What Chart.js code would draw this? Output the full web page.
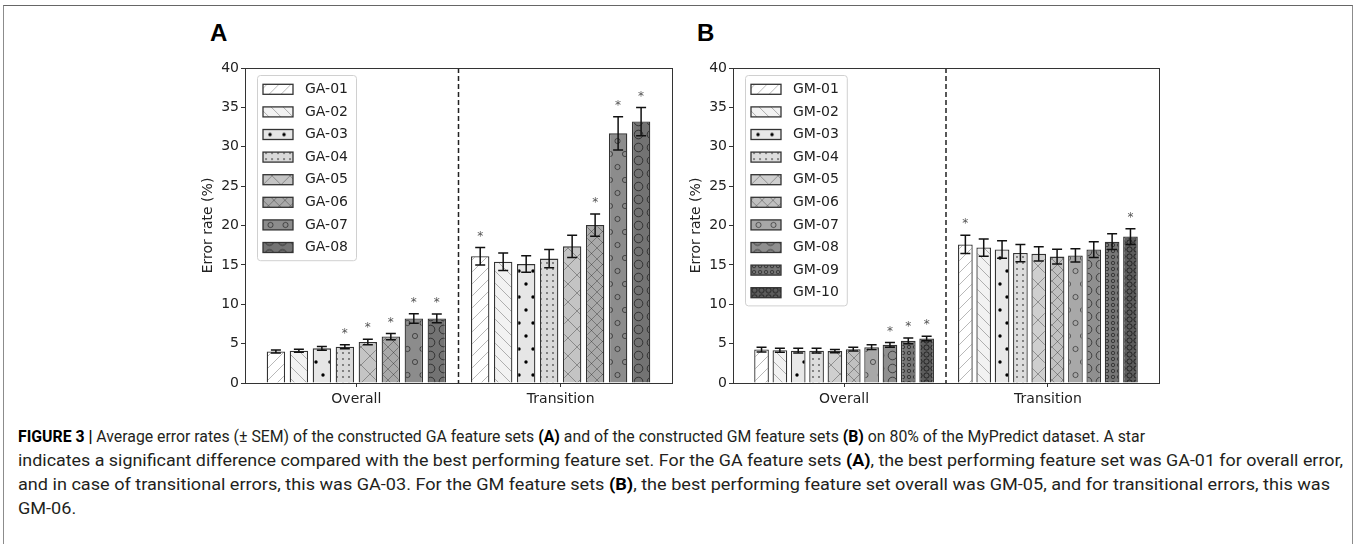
<!DOCTYPE html>
<html>
<head>
<meta charset="utf-8">
<script src="https://cdn.jsdelivr.net/npm/chart.js@4.4.0/dist/chart.umd.min.js"></script>
<style>
  body { margin: 0; background: #fff; width: 1356px; height: 544px; overflow: hidden; position: relative; }
  .frame { position: absolute; left: 3px; top: 5px; width: 1348px; height: 600px; border: 1px solid #8c8c8c; border-top-color: #666; }
  .panel { position: absolute; top: 21px; font: bold 24px "Liberation Sans", Arial, sans-serif; line-height: 24px; color: #000; }
  .wrap { position: absolute; top: 50px; width: 500px; height: 370px; }
  .caption { position: absolute; left: 18px; top: 425px; font: 16px Roboto, "Liberation Sans", sans-serif; line-height: 24px; color: #231f20; }
  .caption div { white-space: nowrap; transform-origin: 0 50%; width: max-content; }
  .caption b { color: #000; }
</style>
</head>
<body>
<div class="frame"></div>
<div class="panel" style="left:210px">A</div>
<div class="panel" style="left:697px">B</div>
<div class="wrap" style="left:190px"><canvas id="chartA" width="500" height="370"></canvas></div>
<div class="wrap" style="left:678px"><canvas id="chartB" width="500" height="370"></canvas></div>
<div class="caption">
  <div data-w="1127"><b>FIGURE 3 |</b> Average error rates (± SEM) of the constructed GA feature sets <b>(A)</b> and of the constructed GM feature sets <b>(B)</b> on 80% of the MyPredict dataset. A star</div>
  <div data-w="1325">indicates a significant difference compared with the best performing feature set. For the GA feature sets <b>(A)</b>, the best performing feature set was GA-01 for overall error,</div>
  <div data-w="1312">and in case of transitional errors, this was GA-03. For the GM feature sets <b>(B)</b>, the best performing feature set overall was GM-05, and for transitional errors, this was</div>
  <div>GM-06.</div>
</div>

<script>
// categories on the x axis
const categories = ['Overall', 'Transition'];

// panel A : GA feature sets
const gaLabels = ['GA-01', 'GA-02', 'GA-03', 'GA-04', 'GA-05', 'GA-06', 'GA-07', 'GA-08'];
const gaOverall = [4.0, 4.1, 4.4, 4.6, 5.2, 5.9, 8.2, 8.2];
const gaOverallSem = [0.2, 0.2, 0.25, 0.25, 0.35, 0.4, 0.6, 0.55];
const gaTransition = [16.1, 15.4, 15.1, 15.8, 17.35, 20.05, 31.7, 33.2];
const gaTransitionSem = [1.1, 1.1, 1.05, 1.15, 1.4, 1.4, 2.1, 1.8];
const gaOverallStar = [false, false, false, true, true, true, true, true];
const gaTransitionStar = [true, false, false, false, false, true, true, true];

// panel B : GM feature sets
const gmLabels = ['GM-01', 'GM-02', 'GM-03', 'GM-04', 'GM-05', 'GM-06', 'GM-07', 'GM-08', 'GM-09', 'GM-10'];
const gmOverall = [4.25, 4.15, 4.1, 4.1, 4.05, 4.3, 4.55, 4.85, 5.35, 5.65];
const gmOverallSem = [0.3, 0.25, 0.3, 0.3, 0.2, 0.25, 0.3, 0.3, 0.35, 0.3];
const gmTransition = [17.6, 17.2, 16.95, 16.5, 16.4, 16.05, 16.2, 16.95, 17.95, 18.6];
const gmTransitionSem = [1.15, 1.1, 1.1, 1.1, 0.9, 0.95, 0.85, 1.0, 1.0, 1.0];
const gmOverallStar = [false, false, false, false, false, false, false, true, true, true];
const gmTransitionStar = [true, false, false, false, false, false, false, false, false, true];

// y axis
const yMin = 0;
const yMax = 40;
const yStep = 5;

// styles
const gaFills = ['#ffffff', '#f2f2f2', '#e6e6e6', '#d9d9d9', '#c4c4c4', '#a9a9a9', '#8c8c8c', '#737373'];
const gaHatches = ['/', '\\', '.', '..', 'x', 'xx', 'o', 'O'];
const gmFills = ['#ffffff', '#f2f2f2', '#e8e8e8', '#dddddd', '#cfcfcf', '#c0c0c0', '#a8a8a8', '#8f8f8f', '#767676', '#5c5c5c'];
const gmHatches = ['/', '\\', '.', '..', 'x', 'xx', 'o', 'O', 'oo', 'OO'];

const FONT = 'DejaVu Sans';
const TEXT = '#222';

function makePattern(fill, hatch) {
    const c = document.createElement('canvas');
    let w = 12, h = 12;
    if (hatch === '.' ) { w = 14; h = 26; }
    if (hatch === '..') { w = 6; h = 6; }
    if (hatch === 'x') { w = 18; h = 18; }
    if (hatch === 'xx') { w = 11; h = 11; }
    if (hatch === 'o') { w = 15; h = 26; }
    if (hatch === 'O') { w = 13; h = 13; }
    if (hatch === 'oo') { w = 6; h = 6; }
    if (hatch === 'OO') { w = 7; h = 7; }
    c.width = w; c.height = h;
    const g = c.getContext('2d');
    g.fillStyle = fill;
    g.fillRect(0, 0, w, h);
    g.lineWidth = 1;

    function diag(forward) {
        g.beginPath();
        if (forward) {
            g.moveTo(-1, h + 1); g.lineTo(w + 1, -1);
            g.moveTo(-2, 2); g.lineTo(2, -2);
            g.moveTo(w - 2, h + 2); g.lineTo(w + 2, h - 2);
        } else {
            g.moveTo(-1, -1); g.lineTo(w + 1, h + 1);
            g.moveTo(w - 2, -2); g.lineTo(w + 2, 2);
            g.moveTo(-2, h - 2); g.lineTo(2, h + 2);
        }
        g.stroke();
    }
    function dot(x, y, r) {
        g.beginPath(); g.arc(x, y, r, 0, Math.PI * 2); g.fill();
    }
    function ring(x, y, r) {
        g.beginPath(); g.arc(x, y, r, 0, Math.PI * 2); g.stroke();
    }

    if (hatch === '/' || hatch === '\\') {
        g.strokeStyle = 'rgba(0,0,0,0.28)';
        diag(hatch === '/');
    } else if (hatch === 'x' || hatch === 'xx') {
        g.strokeStyle = 'rgba(0,0,0,0.3)';
        diag(true); diag(false);
    } else if (hatch === '.') {
        g.fillStyle = '#000';
        [[0, 0], [w, 0], [0, h], [w, h], [w / 2, h / 2]].forEach(p => dot(p[0], p[1], 1.7));
    } else if (hatch === '..') {
        g.fillStyle = 'rgba(0,0,0,0.6)';
        dot(3, 3, 0.9);
    } else if (hatch === 'o') {
        g.strokeStyle = 'rgba(0,0,0,0.5)';
        [[0, 0], [w, 0], [0, h], [w, h], [w / 2, h / 2]].forEach(p => ring(p[0], p[1], 2.6));
    } else if (hatch === 'O') {
        g.strokeStyle = 'rgba(0,0,0,0.55)';
        ring(w / 2, h / 2, 4.3);
    } else if (hatch === 'oo') {
        g.strokeStyle = 'rgba(0,0,0,0.5)';
        ring(3, 3, 1.7);
    } else if (hatch === 'OO') {
        g.strokeStyle = 'rgba(0,0,0,0.6)';
        ring(3.5, 3.5, 2.6);
    }
    return g.createPattern(c, 'repeat');
}

// error bars and significance stars
const errorBars = {
    id: 'errorBars',
    afterDatasetsDraw(chart) {
        const ctx = chart.ctx;
        const y = chart.scales.y;
        ctx.save();
        chart.data.datasets.forEach((ds, i) => {
            const meta = chart.getDatasetMeta(i);
            meta.data.forEach((bar, j) => {
                const v = ds.data[j].y;
                const top = y.getPixelForValue(v + ds.sem[j]);
                const bot = y.getPixelForValue(v - ds.sem[j]);
                ctx.strokeStyle = '#111';
                ctx.lineWidth = 1.5;
                ctx.beginPath();
                ctx.moveTo(bar.x, top); ctx.lineTo(bar.x, bot);
                ctx.moveTo(bar.x - 5, top); ctx.lineTo(bar.x + 5, top);
                ctx.moveTo(bar.x - 5, bot); ctx.lineTo(bar.x + 5, bot);
                ctx.stroke();
                if (ds.star[j]) {
                    ctx.fillStyle = '#555';
                    ctx.font = '12px ' + FONT;
                    ctx.textAlign = 'center';
                    ctx.textBaseline = 'middle';
                    ctx.fillText('*', bar.x, top - 11);
                }
            });
        });
        ctx.restore();
    }
};

// box around the axes and dashed separator between the groups
const axesBox = {
    id: 'axesBox',
    afterDatasetsDraw(chart) {
        const a = chart.chartArea;
        const ctx = chart.ctx;
        const xs = chart.scales.x;
        ctx.save();
        ctx.strokeStyle = '#222';
        ctx.lineWidth = 1.5;
        ctx.setLineDash([5, 3]);
        const mid = xs.getPixelForValue(0.5);
        ctx.beginPath();
        ctx.moveTo(mid, a.top); ctx.lineTo(mid, a.bottom);
        ctx.stroke();
        ctx.setLineDash([]);
        ctx.lineWidth = 1;
        ctx.strokeStyle = '#333';
        ctx.strokeRect(a.left + 0.5, a.top + 0.5, a.right - a.left, a.bottom - a.top);
        ctx.restore();
    }
};

// legend drawn inside the plot, top left
const insideLegend = {
    id: 'insideLegend',
    afterDraw(chart) {
        const a = chart.chartArea;
        const ctx = chart.ctx;
        const ds = chart.data.datasets;
        ctx.save();
        ctx.font = '14px ' + FONT;
        const tw = Math.max(...ds.map(d => ctx.measureText(d.label).width));
        const rowH = 22.6;
        const bx = a.left + 12, by = a.top + 7;
        const bw = 6 + 30 + 12 + tw + 8;
        const bh = 27 + (ds.length - 1) * rowH;
        ctx.fillStyle = 'rgba(255,255,255,0.85)';
        ctx.strokeStyle = '#d0d0d0';
        ctx.lineWidth = 1;
        ctx.beginPath();
        ctx.roundRect(bx + 0.5, by + 0.5, bw, bh, 3);
        ctx.fill();
        ctx.stroke();
        ds.forEach((d, i) => {
            const cy = by + 14.3 + i * rowH;
            const px = bx + 6;
            // move the pattern origin so the hatch sits in the middle of the swatch
            ctx.save();
            ctx.translate(px, cy - 13);
            ctx.fillStyle = d.backgroundColor;
            ctx.fillRect(0, 8, 30, 10);
            ctx.restore();
            ctx.strokeStyle = d.borderColor;
            ctx.lineWidth = 1.3;
            ctx.strokeRect(px, cy - 5, 30, 10);
            ctx.fillStyle = TEXT;
            ctx.textAlign = 'left';
            ctx.textBaseline = 'middle';
            ctx.fillText(d.label, bx + 48, cy);
        });
        ctx.restore();
    }
};

function createPanel(canvasId, labels, overall, overallSem, transition, transitionSem, overallStar, transitionStar, fills, hatches, padRight) {
    const canvas = document.getElementById(canvasId);
    const datasets = labels.map((label, i) => ({
        label: label,
        data: [{ x: 0, y: overall[i] }, { x: 1, y: transition[i] }],
        sem: [overallSem[i], transitionSem[i]],
        star: [overallStar[i], transitionStar[i]],
        backgroundColor: makePattern(fills[i], hatches[i]),
        borderColor: '#333',
        borderWidth: 1.3,
        categoryPercentage: 0.9,
        barPercentage: 0.8
    }));

    return new Chart(canvas, {
        type: 'bar',
        data: { datasets: datasets },
        options: {
            responsive: false,
            animation: false,
            events: [],
            layout: { padding: { left: 10, top: 18, right: padRight, bottom: 0 } },
            plugins: { legend: { display: false }, tooltip: { enabled: false } },
            scales: {
                x: {
                    type: 'linear',
                    min: -0.545,
                    max: 1.545,
                    offset: false,
                    afterBuildTicks: s => { s.ticks = categories.map((c, i) => ({ value: i })); },
                    afterFit: s => { s.height = 37; },
                    ticks: {
                        callback: v => categories[v],
                        font: { family: FONT, size: 14 },
                        color: TEXT,
                        padding: 4,
                        maxRotation: 0,
                        autoSkip: false
                    },
                    grid: { drawOnChartArea: false, tickLength: 4, color: '#333', offset: false },
                    border: { display: false }
                },
                y: {
                    min: yMin,
                    max: yMax,
                    afterFit: s => { s.width = 45; },
                    ticks: { stepSize: yStep, font: { family: FONT, size: 14 }, color: TEXT, padding: 2 },
                    grid: { drawOnChartArea: false, tickLength: 4, color: '#333' },
                    border: { display: false },
                    title: { display: true, text: 'Error rate (%)', font: { family: FONT, size: 14 }, color: TEXT, padding: 0 }
                }
            }
        },
        plugins: [axesBox, errorBars, insideLegend]
    });
}

createPanel('chartA', gaLabels, gaOverall, gaOverallSem, gaTransition, gaTransitionSem, gaOverallStar, gaTransitionStar, gaFills, gaHatches, 18);
createPanel('chartB', gmLabels, gmOverall, gmOverallSem, gmTransition, gmTransitionSem, gmOverallStar, gmTransitionStar, gmFills, gmHatches, 19);

// fit each caption line to its width in the printed figure
let lastScale = 1;
document.querySelectorAll('.caption div').forEach(line => {
    const target = Number(line.dataset.w);
    if (target) lastScale = target / line.getBoundingClientRect().width;
    line.style.transform = 'scaleX(' + lastScale + ')';
});
</script>
</body>
</html>
